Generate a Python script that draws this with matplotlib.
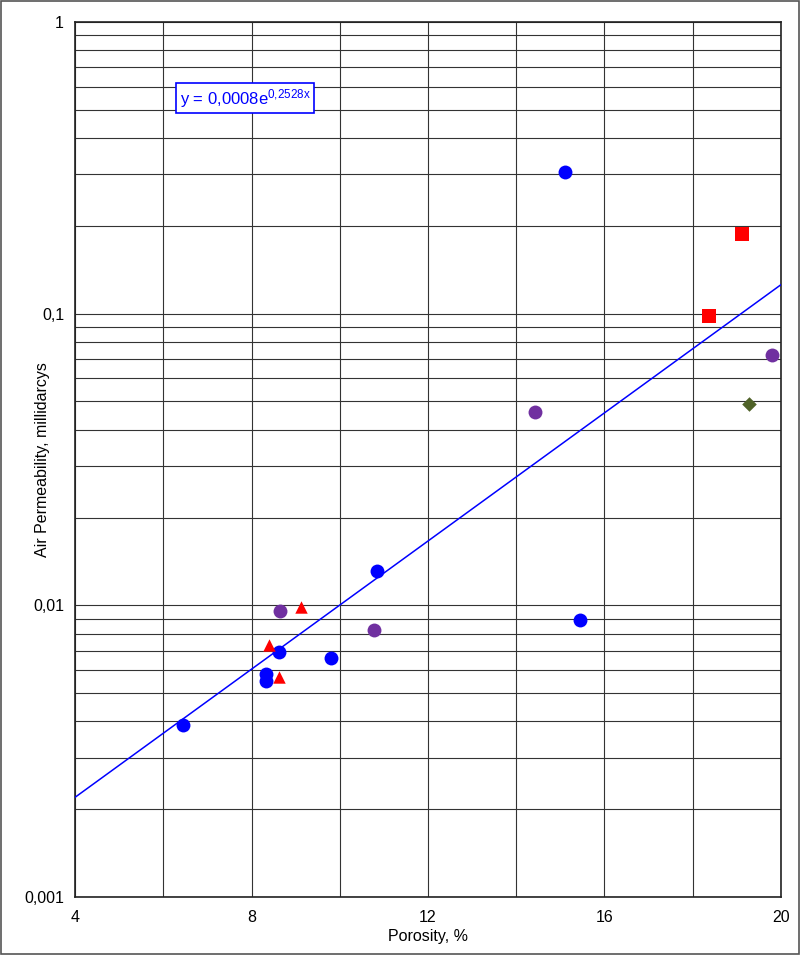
import numpy as np
import matplotlib
matplotlib.use("Agg")
import matplotlib.pyplot as plt
from matplotlib.ticker import FixedLocator, LogLocator, NullFormatter, FuncFormatter

plt.rcParams['font.family'] = ['Liberation Sans', 'DejaVu Sans']
plt.rcParams['mathtext.default'] = 'regular'

# porosity (%) and air permeability (mD), by sample group
blue_x = [15.1, 10.85, 15.45, 8.63, 9.8, 8.33, 8.33, 6.45]
blue_y = [0.305, 0.0131, 0.0089, 0.0069, 0.0066, 0.0058, 0.0055, 0.0039]

purple_x = [14.42, 19.8, 8.64, 10.77]
purple_y = [0.046, 0.072, 0.0096, 0.0082]

red_tri_x = [9.12, 8.4, 8.62]
red_tri_y = [0.0099, 0.0073, 0.0057]

red_sq_x = [19.13, 18.37]
red_sq_y = [0.187, 0.0985]

green_x = [19.28]
green_y = [0.049]

# exponential trend line y = a*exp(b*x)
fit_a = 0.0008
fit_b = 0.2528

fig = plt.figure(figsize=(8, 9.55), dpi=100)
ax = fig.add_axes([0.094, 0.0607, 0.882, 0.9163])

# figure border
fig.patches.append(plt.Rectangle((0.001, 0.001), 0.998, 0.998, transform=fig.transFigure,
                                 fill=False, edgecolor='#555555', linewidth=1.2))

ax.set_yscale('log')
ax.set_xlim(4, 20)
ax.set_ylim(0.001, 1)

xs = np.linspace(4, 20, 200)
ax.plot(xs, fit_a * np.exp(fit_b * xs), color='#0000FF', linewidth=1.1, zorder=3)

ax.scatter(blue_x, blue_y, s=100, color='#0000FF', marker='o', zorder=4, linewidths=0)
ax.scatter(purple_x, purple_y, s=100, color='#7030A0', marker='o', zorder=4, linewidths=0)
ax.scatter(red_tri_x, red_tri_y, s=80, color='#FF0000', marker='^', zorder=4, linewidths=0)
ax.scatter(red_sq_x, red_sq_y, s=90, color='#FF0000', marker='s', zorder=4, linewidths=0)
ax.scatter(green_x, green_y, s=55, color='#4F6228', marker='D', zorder=4, linewidths=0)

# ticks and grid
ax.xaxis.set_major_locator(FixedLocator([4, 8, 12, 16, 20]))
ax.xaxis.set_minor_locator(FixedLocator([6, 10, 14, 18]))
ax.yaxis.set_major_locator(LogLocator(base=10, numticks=10))
ax.yaxis.set_minor_locator(LogLocator(base=10, subs=np.arange(2, 10), numticks=10))
ax.yaxis.set_minor_formatter(NullFormatter())
ax.yaxis.set_major_formatter(FuncFormatter(lambda v, p: ('%g' % v).replace('.', ',')))
ax.grid(True, which='both', color='#333333', linewidth=0.8)
ax.set_axisbelow(True)
ax.tick_params(which='both', length=0, labelsize=11.5, pad=8)
ax.tick_params(axis='x', pad=9)

for s in ax.spines.values():
    s.set_color('#222222')
    s.set_linewidth(1.2)

ax.set_xlabel('Porosity, %', fontsize=11.5, labelpad=3)
ax.set_ylabel('Air Permeability, millidarcys', fontsize=11.5)
ax.yaxis.set_label_coords(-0.036, 0.5)

ax.text(0.148, 0.913, r'y = 0,0008e$^{0{,}2528x}$', transform=ax.transAxes,
        fontsize=12, color='#0000FF', va='center', ha='left',
        bbox=dict(boxstyle='square,pad=0.2', facecolor='white', edgecolor='#0000FF', linewidth=1.2))

fig.savefig('out.png', dpi=100)
